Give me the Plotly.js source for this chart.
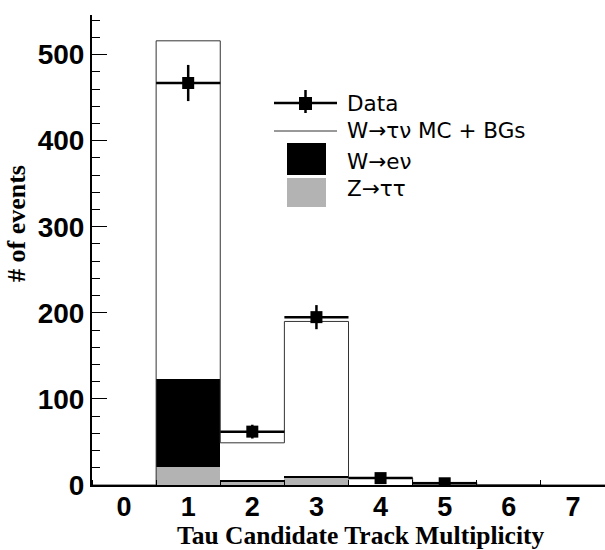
<!DOCTYPE html>
<html><head><meta charset="utf-8">
<script src="https://cdn.plot.ly/plotly-3.0.1.min.js"></script>
<style>body{margin:0;background:#fff}</style>
</head><body><div id="chart" style="width:605px;height:550px"></div>
<script>
// ---- data ----
const trackMult   = [0, 1, 2, 3, 4, 5, 6, 7];
const xTickLabels = ["0", "1", "2", "3", "4", "5", "6", "7"];
const dataCounts  = [null, 467, 62, 195, 8, 2, null, null];
const dataErrors  = [0, 21, 8, 14, 3, 1.5, 0, 0];
const mcTotal     = [0, 516, 49, 190, 8, 3, 0.4, 0];   // W->tau nu MC + BGs
const wenuStack   = [0, 123, 6, 10.5, 0, 3, 0, 0];     // W->e nu (stacked on Z->tautau)
const ztautau     = [0, 21, 3, 8.5, 0, 3, 0, 0];       // Z->tau tau
const legendLabels = ["Data", "W\u2192\u03c4\u03bd MC + BGs", "W\u2192e\u03bd", "Z\u2192\u03c4\u03c4"];
const xTitle = "Tau Candidate Track Multiplicity";
const yTitle = "# of events";

// step outline built from the bin values
const edges = trackMult.map(v => v - 0.5).concat([trackMult[trackMult.length - 1] + 0.5]);
const mcStepY = mcTotal.concat([mcTotal[mcTotal.length - 1]]);

// pixel -> paper helpers (plot area: x 92..605, y 15..485)
const L = 92, R = 605, T = 15, B = 485;
const px = x => (x - L) / (R - L);
const py = y => (B - y) / (B - T);

const traces = [
  { type: 'bar', x: trackMult, y: wenuStack, width: 1, marker: { color: '#000', line: { width: 0 } }, showlegend: false, hoverinfo: 'skip' },
  { type: 'bar', x: trackMult, y: ztautau, width: 1, marker: { color: '#b3b3b3', line: { width: 0 } }, showlegend: false, hoverinfo: 'skip' },
  { type: 'scatter', mode: 'lines', x: edges, y: mcStepY, line: { shape: 'hv', color: '#333', width: 1 }, showlegend: false, hoverinfo: 'skip' },
  { type: 'scatter', mode: 'markers', x: trackMult, y: dataCounts,
    marker: { symbol: 'square', size: 12, color: '#000' },
    error_y: { type: 'data', array: dataErrors, visible: true, color: '#000', thickness: 2.5, width: 0 },
    error_x: { type: 'constant', value: 0.5, visible: true, color: '#000', thickness: 2.5, width: 0 },
    showlegend: false }
];

const legFont = { family: 'DejaVu Sans', size: 21.5, color: '#000' };
const legRows = [103, 130, 161, 188.5];
const annotations = legendLabels.map((t, i) => ({
  text: t, xref: 'paper', yref: 'paper', x: px(345), y: py(legRows[i]),
  xanchor: 'left', yanchor: 'middle', showarrow: false, font: legFont
}));
annotations.push({ text: '<b>' + xTitle + '</b>', xref: 'paper', yref: 'paper', x: px(360), y: py(535.5),
  xanchor: 'center', yanchor: 'middle', showarrow: false,
  font: { family: 'Liberation Serif', size: 25.5, color: '#000' } });
annotations.push({ text: '<b>' + yTitle + '</b>', xref: 'paper', yref: 'paper', x: px(16), y: py(224),
  xanchor: 'center', yanchor: 'middle', textangle: -90, showarrow: false,
  font: { family: 'Liberation Serif', size: 26, color: '#000' } });

const shapes = [
  { type: 'line', xref: 'paper', yref: 'paper', x0: px(274), x1: px(337), y0: py(103), y1: py(103), line: { color: '#000', width: 2.5 } },
  { type: 'line', xref: 'paper', yref: 'paper', x0: px(305.5), x1: px(305.5), y0: py(90), y1: py(113), line: { color: '#000', width: 2.5 } },
  { type: 'rect', xref: 'paper', yref: 'paper', x0: px(299), x1: px(312), y0: py(97), y1: py(110), fillcolor: '#000', line: { width: 0 } },
  { type: 'line', xref: 'paper', yref: 'paper', x0: px(274), x1: px(337), y0: py(131), y1: py(131), line: { color: '#333', width: 1 } },
  { type: 'rect', xref: 'paper', yref: 'paper', x0: px(287), x1: px(326), y0: py(143), y1: py(175), fillcolor: '#000', line: { width: 0 } },
  { type: 'rect', xref: 'paper', yref: 'paper', x0: px(287), x1: px(326), y0: py(178), y1: py(207), fillcolor: '#b3b3b3', line: { width: 0 } }
];

const tickFont = { family: 'Liberation Sans', size: 28, color: '#000', weight: 'bold' };
const layout = {
  width: 605, height: 550,
  margin: { l: L, r: 605 - R, t: T, b: 550 - B, pad: 0 },
  paper_bgcolor: '#fff', plot_bgcolor: '#fff',
  barmode: 'overlay', bargap: 0,
  showlegend: false,
  xaxis: {
    range: [-0.5, 7.5], tickmode: 'array', tickvals: trackMult, ticktext: xTickLabels,
    ticks: '', showgrid: false, zeroline: false, showline: true, linecolor: '#000', linewidth: 2,
    tickfont: { family: 'Liberation Sans', size: 27, color: '#000', weight: 'bold' }, ticklabelstandoff: -3,
    minor: { tick0: 0.5, dtick: 1, ticks: 'inside', ticklen: 5, tickwidth: 1, tickcolor: '#000', showgrid: false }
  },
  yaxis: {
    range: [0, 546], dtick: 100, ticks: 'inside', ticklen: 15, tickwidth: 1, tickcolor: '#000',
    showgrid: false, zeroline: false, showline: true, linecolor: '#000', linewidth: 2,
    tickfont: tickFont,
    minor: { dtick: 20, ticks: 'inside', ticklen: 8, tickwidth: 1, tickcolor: '#000', showgrid: false }
  },
  annotations: annotations,
  shapes: shapes
};

Plotly.newPlot('chart', traces, layout, { displayModeBar: false, staticPlot: true });
</script></body></html>
